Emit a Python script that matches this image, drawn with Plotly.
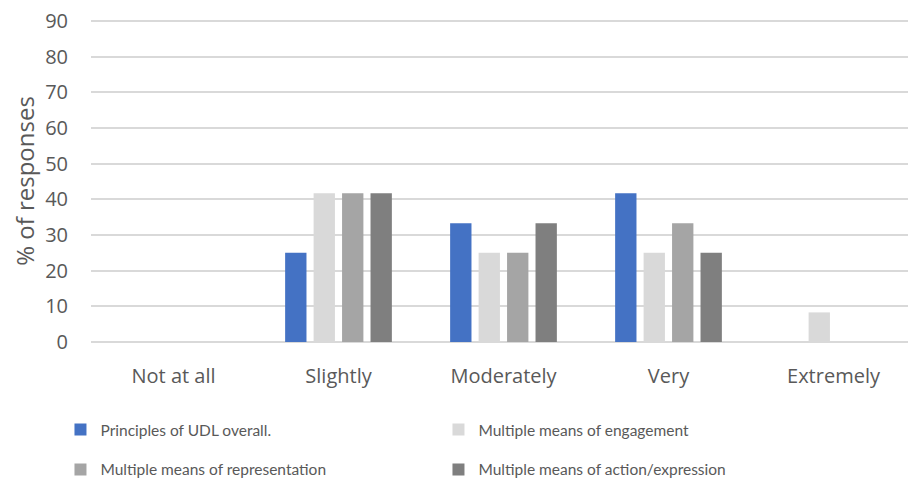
import plotly.graph_objects as go

categories = ['Not at all', 'Slightly', 'Moderately', 'Very', 'Extremely']
udl_overall = [0, 25.0, 33.3, 41.7, 0]
engagement = [0, 41.7, 25.0, 25.0, 8.3]
representation = [0, 41.7, 25.0, 33.3, 0]
action_expression = [0, 41.7, 33.3, 25.0, 0]

series = [
    ('Principles of UDL overall.', udl_overall, '#4472c4', 'legend'),
    ('Multiple means of engagement', engagement, '#d9d9d9', 'legend'),
    ('Multiple means of representation', representation, '#a5a5a5', 'legend2'),
    ('Multiple means of action/expression', action_expression, '#7f7f7f', 'legend2'),
]

fig = go.Figure()
for name, vals, color, leg in series:
    fig.add_trace(go.Bar(x=categories, y=vals, name=name, legend=leg,
                         marker=dict(color=color, line=dict(width=0))))

legend_style = dict(orientation='h', xanchor='left', yanchor='middle',
                    entrywidth=333, entrywidthmode='pixels',
                    font=dict(family='Lato', size=15.5, color='#595959'),
                    itemwidth=30, bgcolor='rgba(0,0,0,0)')

# page body has an 8px margin, so margins are trimmed to compensate
fig.update_layout(
    width=916, height=486,
    barmode='group', bargap=0.31, bargroupgap=0.25,
    plot_bgcolor='white', paper_bgcolor='white',
    margin=dict(l=83, r=8, t=12, b=152, autoexpand=False),
    font=dict(family='Open Sans', size=20, color='#595959'),
    legend=dict(x=-0.037, y=-0.273, **legend_style),
    legend2=dict(x=-0.037, y=-0.397, **legend_style),
    showlegend=True,
)
fig.update_yaxes(range=[0, 90.3], tickvals=list(range(0, 91, 10)),
                 showgrid=True, automargin=False, ticklabeloverflow='allow',
                 gridcolor='#d9d9d9', gridwidth=1.5,
                 zeroline=True, zerolinecolor='#d9d9d9', zerolinewidth=1.5,
                 title=dict(text='% of responses', standoff=7),
                 ticks='', ticklabelstandoff=22)
fig.update_xaxes(showgrid=False, ticks='', showline=False, automargin=False,
                 ticklabelstandoff=20)

fig.write_html("out.html")
